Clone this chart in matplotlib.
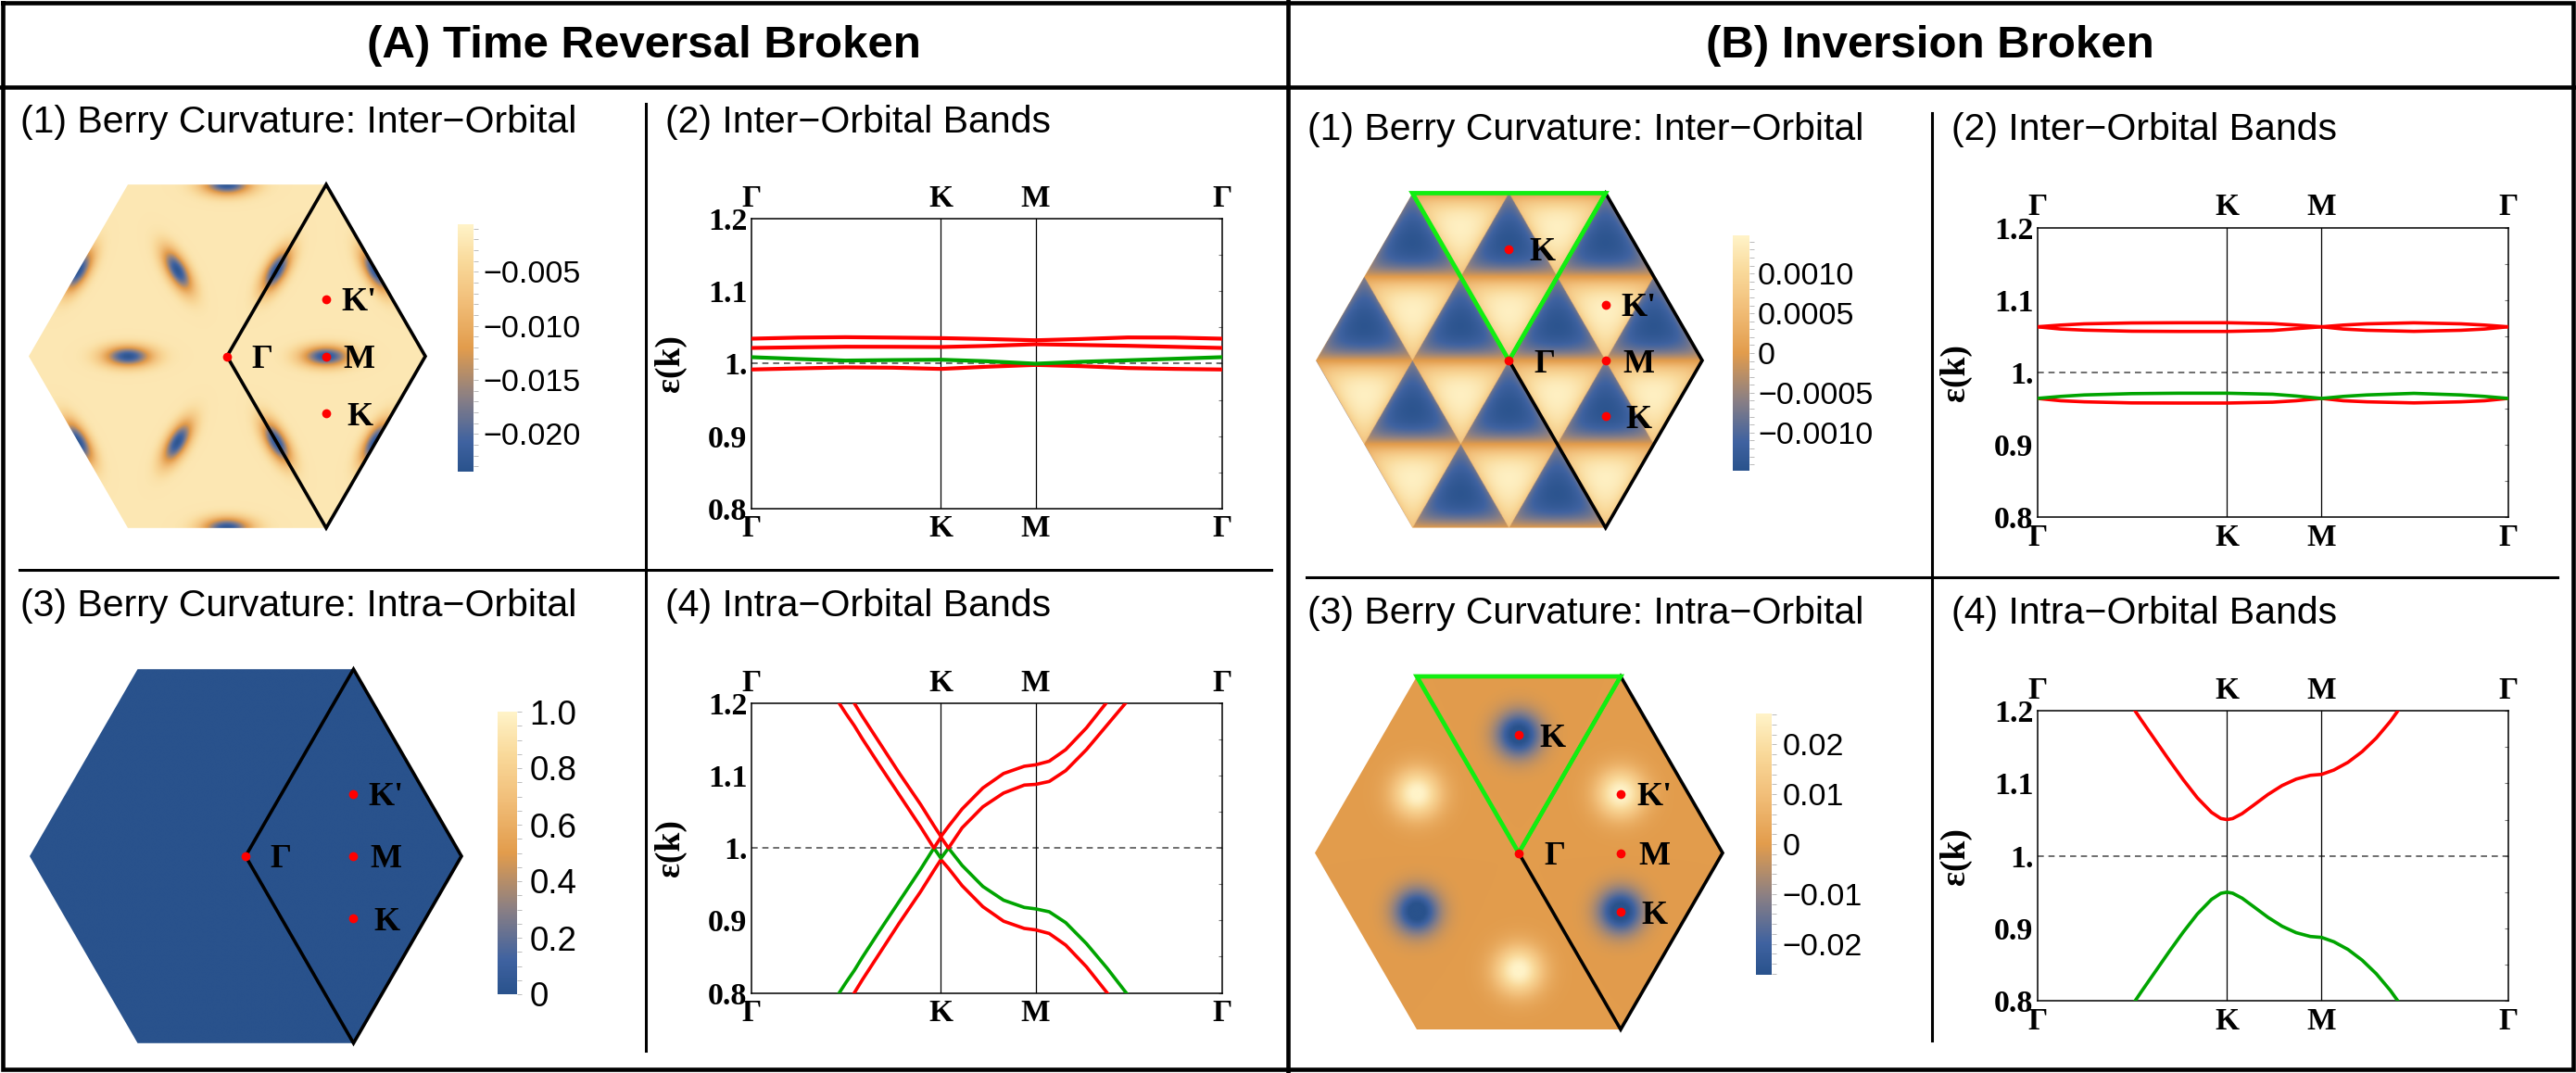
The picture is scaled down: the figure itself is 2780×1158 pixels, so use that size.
import numpy as np
import matplotlib
matplotlib.use("Agg")
import matplotlib.pyplot as plt
from matplotlib.colors import LinearSegmentedColormap, Normalize
from matplotlib.patches import Polygon
from matplotlib.cm import ScalarMappable
from matplotlib.ticker import MultipleLocator

W, H = 2780, 1158
SANS = "Liberation Sans"
SERIF = "Liberation Serif"

# ---------------- text ----------------
header_titles = ["(A) Time Reversal Broken", "(B) Inversion Broken"]
panel_titles_A = ["(1) Berry Curvature: Inter\u2212Orbital", "(2) Inter\u2212Orbital Bands",
                  "(3) Berry Curvature: Intra\u2212Orbital", "(4) Intra\u2212Orbital Bands"]
panel_titles_B = panel_titles_A

# ---------------- band path data ----------------
path_ticks = [0.0, 0.403, 0.604, 1.0]
path_labels = ["\u0393", "K", "M", "\u0393"]
energy_ticks = [0.8, 0.9, 1.0, 1.1, 1.2]
energy_labels = ["0.8", "0.9", "1.", "1.1", "1.2"]
energy_minor = [0.85, 0.95, 1.05, 1.15]
RED, GREEN = "#FF0000", "#00A400"
four_band_colors = [RED, GREEN, RED, RED]
two_band_colors = [GREEN, RED]

# (A2) inter-orbital bands, time reversal broken
a2_k = [0.0, 0.1, 0.2, 0.3, 0.403, 0.5, 0.604, 0.7, 0.8, 0.9, 1.0]
a2_band1 = [0.9920, 0.9935, 0.9949, 0.9945, 0.9928, 0.9958, 0.9983, 0.9966, 0.9940, 0.9928, 0.9920]
a2_band2 = [1.0090, 1.0065, 1.0043, 1.0050, 1.0055, 1.0034, 1.0000, 1.0026, 1.0047, 1.0068, 1.0090]
a2_band3 = [1.0217, 1.0226, 1.0234, 1.0233, 1.0230, 1.0245, 1.0268, 1.0258, 1.0247, 1.0232, 1.0217]
a2_band4 = [1.0345, 1.0360, 1.0366, 1.0360, 1.0353, 1.0340, 1.0323, 1.0340, 1.0362, 1.0360, 1.0345]

# (A4) intra-orbital bands, time reversal broken
a4_k = [0.166, 0.183, 0.201, 0.219, 0.236, 0.271, 0.315, 0.360, 0.388, 0.403, 0.419,
        0.448, 0.492, 0.536, 0.580, 0.604, 0.633, 0.668, 0.712, 0.756, 0.800, 0.826]
a4_band1 = [0.748, 0.766, 0.783, 0.800, 0.818, 0.853, 0.897, 0.940, 0.969, 0.984, 0.972,
            0.948, 0.919, 0.899, 0.889, 0.887, 0.882, 0.866, 0.836, 0.800, 0.762, 0.740]
a4_band2 = [0.779, 0.796, 0.814, 0.831, 0.849, 0.884, 0.927, 0.971, 1.000, 0.986, 1.000,
            0.976, 0.947, 0.928, 0.918, 0.916, 0.912, 0.897, 0.868, 0.834, 0.797, 0.775]
a4_band3 = [1.221, 1.204, 1.186, 1.169, 1.151, 1.116, 1.073, 1.029, 1.000, 1.015, 1.000,
            1.028, 1.057, 1.076, 1.087, 1.088, 1.092, 1.107, 1.136, 1.170, 1.204, 1.230]
a4_band4 = [1.252, 1.235, 1.217, 1.200, 1.182, 1.147, 1.103, 1.060, 1.031, 1.016, 1.030,
            1.054, 1.083, 1.103, 1.113, 1.115, 1.120, 1.136, 1.166, 1.202, 1.240, 1.262]

# (B2) inter-orbital bands, inversion broken
b2_k = [0.0, 0.05, 0.1, 0.2, 0.3, 0.403, 0.5, 0.55, 0.604, 0.65, 0.7, 0.8, 0.9, 0.95, 1.0]
b2_band1 = [0.9642, 0.9610, 0.9595, 0.9580, 0.9578, 0.9578, 0.9590, 0.9610, 0.9642,
            0.9610, 0.9595, 0.9580, 0.9595, 0.9610, 0.9642]
b2_band2 = [0.9642, 0.9670, 0.9690, 0.9708, 0.9714, 0.9714, 0.9700, 0.9675, 0.9642,
            0.9670, 0.9690, 0.9712, 0.9690, 0.9670, 0.9642]
b2_band3 = [1.0631, 1.0600, 1.0585, 1.0570, 1.0567, 1.0567, 1.0580, 1.0605, 1.0631,
            1.0600, 1.0583, 1.0568, 1.0583, 1.0600, 1.0631]
b2_band4 = [1.0631, 1.0655, 1.0672, 1.0684, 1.0687, 1.0687, 1.0675, 1.0655, 1.0631,
            1.0655, 1.0672, 1.0686, 1.0672, 1.0655, 1.0631]

# (B4) intra-orbital bands, inversion broken
b4_k = [0.18, 0.20, 0.22, 0.25, 0.28, 0.31, 0.34, 0.37, 0.39, 0.403, 0.415, 0.435, 0.46,
        0.49, 0.52, 0.55, 0.58, 0.604, 0.63, 0.66, 0.69, 0.72, 0.75, 0.78, 0.80]
b4_lower = [0.7735, 0.7927, 0.812, 0.840, 0.868, 0.895, 0.920, 0.940, 0.9485, 0.950, 0.9486,
            0.9418, 0.9299, 0.9154, 0.9031, 0.8942, 0.8890, 0.8877, 0.8817, 0.8711, 0.8564,
            0.8377, 0.8146, 0.7874, 0.7669]
b4_upper = [1.2265, 1.2073, 1.188, 1.160, 1.132, 1.105, 1.080, 1.060, 1.0515, 1.050, 1.0514,
            1.0582, 1.0701, 1.0846, 1.0969, 1.1058, 1.1110, 1.1123, 1.1183, 1.1289, 1.1436,
            1.1623, 1.1854, 1.2126, 1.2331]

# ---------------- Brillouin-zone data (units of the hexagon radius) ----------------
hex_angles = [0, 60, 120, 180, 240, 300]
rhombus_x = [0.0, 0.5, 1.0, 0.5]
rhombus_y = [0.0, 0.866, 0.0, -0.866]
green_tri_x = [-0.5, 0.5, 0.0]
green_tri_y = [0.866, 0.866, 0.0]
ptsA_x = [0.0, 0.5, 0.5, 0.5]
ptsA_y = [0.0, 0.2887, 0.0, -0.2887]
ptsA_lab = ["\u0393", "K'", "M", "K"]
ptsA_dx = [26, 16, 18, 22]          # label offset in px
ptsB_x = [0.0, 0.0, 0.5, 0.5, 0.5]
ptsB_y = [0.5774, 0.0, 0.2887, 0.0, -0.2887]
ptsB_lab = ["K", "\u0393", "K'", "M", "K"]
ptsB_dx = [22, 27, 17, 19, 22]

# (A1) inter-orbital Berry curvature: elongated minima at bond midpoints
a1_base = -0.0022
a1_spot_depth = -0.0205
a1_spot_x = [0.5, 0.25, -0.25, -0.5, -0.25, 0.25, 0.75, 0.0, -0.75, -0.75, 0.0, 0.75]
a1_spot_y = [0.0, 0.433, 0.433, 0.0, -0.433, -0.433, 0.433, 0.866, 0.433, -0.433, -0.866, -0.433]
a1_spot_dir = [0, 60, 120, 180, 240, 300, 120, 0, 60, 120, 0, 60]
a1_sig_long, a1_sig_short = 0.085, 0.036
a1_range = (-0.0235, -0.0006)
a1_cb_ticks = [-0.005, -0.010, -0.015, -0.020]
a1_cb_labels = ["\u22120.005", "\u22120.010", "\u22120.015", "\u22120.020"]

# (A3) intra-orbital Berry curvature: zero everywhere
a3_value = 0.0
a3_range = (0.0, 1.0)
a3_cb_ticks = [0.0, 0.2, 0.4, 0.6, 0.8, 1.0]
a3_cb_labels = ["0", "0.2", "0.4", "0.6", "0.8", "1.0"]

# (B1) inter-orbital Berry curvature: alternating small triangles
b1_cell = 0.5
b1_amp = 0.00148
b1_edge = 0.12
b1_range = (-0.00148, 0.00148)
b1_cb_ticks = [0.0010, 0.0005, 0.0, -0.0005, -0.0010]
b1_cb_labels = ["0.0010", "0.0005", "0", "\u22120.0005", "\u22120.0010"]

# (B3) intra-orbital Berry curvature: peaks at K (negative) and K' (positive)
b3_spot_ang = [90, 30, 330, 270, 210, 150]
b3_spot_amp = [-0.030, 0.027, -0.030, 0.027, -0.030, 0.027]
b3_spot_sig = [0.075, 0.085, 0.075, 0.085, 0.075, 0.085]
b3_spot_r = 0.5774
b3_range = (-0.0262, 0.0262)
b3_cb_ticks = [0.02, 0.01, 0.0, -0.01, -0.02]
b3_cb_labels = ["0.02", "0.01", "0", "\u22120.01", "\u22120.02"]

# colormap (Mathematica-like density gradient)
cmap_nodes = [0.0, 0.12, 0.3, 0.5, 0.7, 0.85, 1.0]
cmap_colors = ["#29528C", "#3F62A0", "#8A7F84", "#E29C4C", "#F2C07B", "#F9D99A", "#FFF3C8"]
cmap = LinearSegmentedColormap.from_list("m10", list(zip(cmap_nodes, cmap_colors)))

# ---------------- figure ----------------
fig = plt.figure(figsize=(W / 100, H / 100), dpi=100)
fig.patch.set_facecolor("white")


def add_ax(x0, y0, x1, y1, **kw):
    return fig.add_axes([x0 / W, 1 - y1 / H, (x1 - x0) / W, (y1 - y0) / H], **kw)


bg = add_ax(0, 0, W, H)
bg.set_xlim(0, W)
bg.set_ylim(H, 0)
bg.axis("off")

# frames and separators
thick = 3.3
thin = 2.2
bg.plot([2.5, W - 3, W - 3, 2.5, 2.5], [2.5, 2.5, H - 4, H - 4, 2.5], color="black", lw=thick,
        solid_joinstyle="miter")
bg.plot([0, W], [94, 94], color="black", lw=thick)
bg.plot([1390, 1390], [0, H], color="black", lw=thick)
bg.plot([697, 697], [112, 1134], color="black", lw=thin)
bg.plot([21, 1372], [615, 615], color="black", lw=thin)
bg.plot([2085, 2085], [122, 1123], color="black", lw=thin)
bg.plot([1410, 2760], [623, 623], color="black", lw=thin)

bg.text(695, 62, header_titles[0], ha="center", va="baseline", fontfamily=SANS,
        fontweight="bold", fontsize=35.5)
bg.text(2083, 62, header_titles[1], ha="center", va="baseline", fontfamily=SANS,
        fontweight="bold", fontsize=35.5)

title_pos_A = [(22, 143), (718, 143), (22, 665), (718, 665)]
title_pos_B = [(1411, 151), (2106, 151), (1411, 673), (2106, 673)]
for (tx, ty), t in zip(title_pos_A, panel_titles_A):
    bg.text(tx, ty, t, ha="left", va="baseline", fontfamily=SANS, fontsize=29.5)
for (tx, ty), t in zip(title_pos_B, panel_titles_B):
    bg.text(tx, ty, t, ha="left", va="baseline", fontfamily=SANS, fontsize=29.5)


# ---------------- band panels ----------------
def band_panel(box, ks, bands, colors, lw):
    x0, y0, x1, y1 = box
    ax = add_ax(x0, y0, x1, y1)
    for b, c in zip(bands, colors):
        ax.plot(ks, b, color=c, lw=lw, zorder=3, solid_joinstyle="round")
    ax.axhline(1.0, color="#555555", lw=1.2, ls=(0, (4, 3)), zorder=2)
    for xv in path_ticks[1:3]:
        ax.axvline(xv, color="black", lw=0.9, zorder=2)
    ax.set_xlim(0, 1)
    ax.set_ylim(0.8, 1.2)
    ax.set_xticks(path_ticks)
    ax.set_xticklabels(path_labels, fontfamily=SERIF, fontweight="bold", fontsize=24)
    ax.tick_params(axis="x", which="both", length=0, top=True, labeltop=True,
                   bottom=True, labelbottom=True, pad=4.5)
    ax.set_yticks(energy_ticks)
    ax.set_yticklabels(energy_labels, fontfamily=SERIF, fontweight="bold", fontsize=24.5)
    ax.set_yticks(energy_minor, minor=True)
    ax.tick_params(axis="y", which="both", left=False, right=True, direction="in",
                   length=3, width=0.8, color="#777777", labelleft=True,
                   labelright=False, pad=3)
    ax.set_ylabel("\u03b5(k)", fontfamily=SERIF, fontweight="bold", fontsize=27)
    ax.yaxis.set_label_coords(-0.138, 0.5)
    for s in ax.spines.values():
        s.set_linewidth(1.1)
    return ax


band_panel((810.7, 236, 1318.8, 549), a2_k, [a2_band1, a2_band2, a2_band3, a2_band4],
           four_band_colors, 3.0)
band_panel((810.7, 759, 1318.8, 1071.5), a4_k, [a4_band1, a4_band2, a4_band3, a4_band4],
           four_band_colors, 2.6)
band_panel((2198.6, 245.7, 2706.7, 558.3), b2_k, [b2_band1, b2_band2, b2_band3, b2_band4],
           four_band_colors, 2.6)
band_panel((2198.6, 767, 2706.7, 1080.4), b4_k, [b4_lower, b4_upper], two_band_colors, 2.6)


# ---------------- Brillouin zone panels ----------------
hh = np.sqrt(3) / 2
gx = np.linspace(-1, 1, 901)
gy = np.linspace(-hh, hh, 781)
GX, GY = np.meshgrid(gx, gy)


def field_a1():
    Z = np.full_like(GX, a1_base)
    for sx, sy, d in zip(a1_spot_x, a1_spot_y, a1_spot_dir):
        th = np.deg2rad(d)
        dx, dy = GX - sx, GY - sy
        u = dx * np.cos(th) + dy * np.sin(th)
        w = -dx * np.sin(th) + dy * np.cos(th)
        Z = Z + a1_spot_depth * np.exp(-0.5 * ((u / a1_sig_long) ** 2 + (w / a1_sig_short) ** 2))
    return Z


def field_a3():
    return np.full_like(GX, a3_value)


def field_b1():
    s = b1_cell
    v = GY / (s * hh)
    u = (GX - v * s / 2) / s
    fu = u - np.floor(u)
    fv = v - np.floor(v)
    up = (fu + fv) < 1
    l1 = np.where(up, 1 - fu - fv, fu + fv - 1)
    l2 = np.where(up, fu, 1 - fv)
    l3 = np.where(up, fv, 1 - fu)
    t_apex = np.where(up, fv, 1 - fv)
    core = np.sqrt(np.clip(27 * l1 * l2 * l3, 0, None))
    g = (1 - np.exp(-t_apex / b1_edge)) * (0.4 + 0.6 * core)
    return np.where(up, -1.0, 1.0) * b1_amp * g


def field_b3():
    Z = np.zeros_like(GX)
    for a, amp, sg in zip(b3_spot_ang, b3_spot_amp, b3_spot_sig):
        sx = b3_spot_r * np.cos(np.deg2rad(a))
        sy = b3_spot_r * np.sin(np.deg2rad(a))
        Z = Z + amp * np.exp(-0.5 * ((GX - sx) ** 2 + (GY - sy) ** 2) / sg ** 2)
    return Z


def hex_panel(cx, cy, R, Z, vrange, pts_x, pts_y, labs, dxs, green=False):
    ax = add_ax(cx - 1.1 * R, cy - 1.1 * R, cx + 1.1 * R, cy + 1.1 * R)
    ax.set_xlim(-1.1, 1.1)
    ax.set_ylim(-1.1, 1.1)
    ax.axis("off")
    hx = np.cos(np.deg2rad(hex_angles))
    hy = np.sin(np.deg2rad(hex_angles))
    poly = Polygon(np.column_stack([hx, hy]), closed=True, transform=ax.transData,
                   facecolor="none", edgecolor="none")
    ax.add_patch(poly)
    im = ax.imshow(Z, extent=(-1, 1, -hh, hh), origin="lower", cmap=cmap,
                   vmin=vrange[0], vmax=vrange[1], interpolation="bilinear", zorder=1)
    im.set_clip_path(poly)
    ax.add_patch(Polygon(np.column_stack([rhombus_x, rhombus_y]), closed=True,
                         facecolor="none", edgecolor="black", lw=2.6, zorder=3,
                         joinstyle="miter"))
    if green:
        ax.add_patch(Polygon(np.column_stack([green_tri_x, green_tri_y]), closed=True,
                             facecolor="none", edgecolor="#11EE11", lw=3.4, zorder=4,
                             joinstyle="miter"))
    ax.plot(pts_x, pts_y, "o", color="red", ms=7, mec="none", zorder=6, ls="none")
    for px, py, lab, dx in zip(pts_x, pts_y, labs, dxs):
        ax.text(px + dx / R, py - 4 / R, lab, ha="left", va="center", fontfamily=SERIF,
                fontweight="bold", fontsize=26, zorder=7)
    return ax


hex_panel(245, 384.5, 214, field_a1(), a1_range, ptsA_x, ptsA_y, ptsA_lab, ptsA_dx)
hex_panel(265, 924, 233, field_a3(), a3_range, ptsA_x, ptsA_y, ptsA_lab, ptsA_dx)
hex_panel(1628.5, 389, 208.5, field_b1(), b1_range, ptsB_x, ptsB_y, ptsB_lab, ptsB_dx, green=True)
hex_panel(1639, 920.5, 220, field_b3(), b3_range, ptsB_x, ptsB_y, ptsB_lab, ptsB_dx, green=True)


# ---------------- colorbars ----------------
def colorbar(box, vrange, ticks, labels, minor, pad, fs=24.5):
    x0, y0, x1, y1 = box
    cax = add_ax(x0, y0, x1, y1)
    sm = ScalarMappable(Normalize(*vrange), cmap)
    cb = fig.colorbar(sm, cax=cax)
    cb.outline.set_visible(False)
    cb.set_ticks(ticks, labels=labels, fontfamily=SANS, fontsize=fs)
    cax.yaxis.set_minor_locator(MultipleLocator(minor))
    cax.tick_params(which="both", length=3.5, width=0.7, color="#BBBBBB", pad=pad)
    return cb


colorbar((494, 242, 511, 509), a1_range, a1_cb_ticks, a1_cb_labels, 0.001, 4)
colorbar((537, 768, 558, 1073), a3_range, a3_cb_ticks, a3_cb_labels, 0.05, 6, fs=26.5)
colorbar((1870, 254, 1888, 508), b1_range, b1_cb_ticks, b1_cb_labels, 0.0001, 3)
colorbar((1895, 770, 1912, 1052), b3_range, b3_cb_ticks, b3_cb_labels, 0.002, 5)

fig.savefig("out.png", dpi=100, facecolor="white")
